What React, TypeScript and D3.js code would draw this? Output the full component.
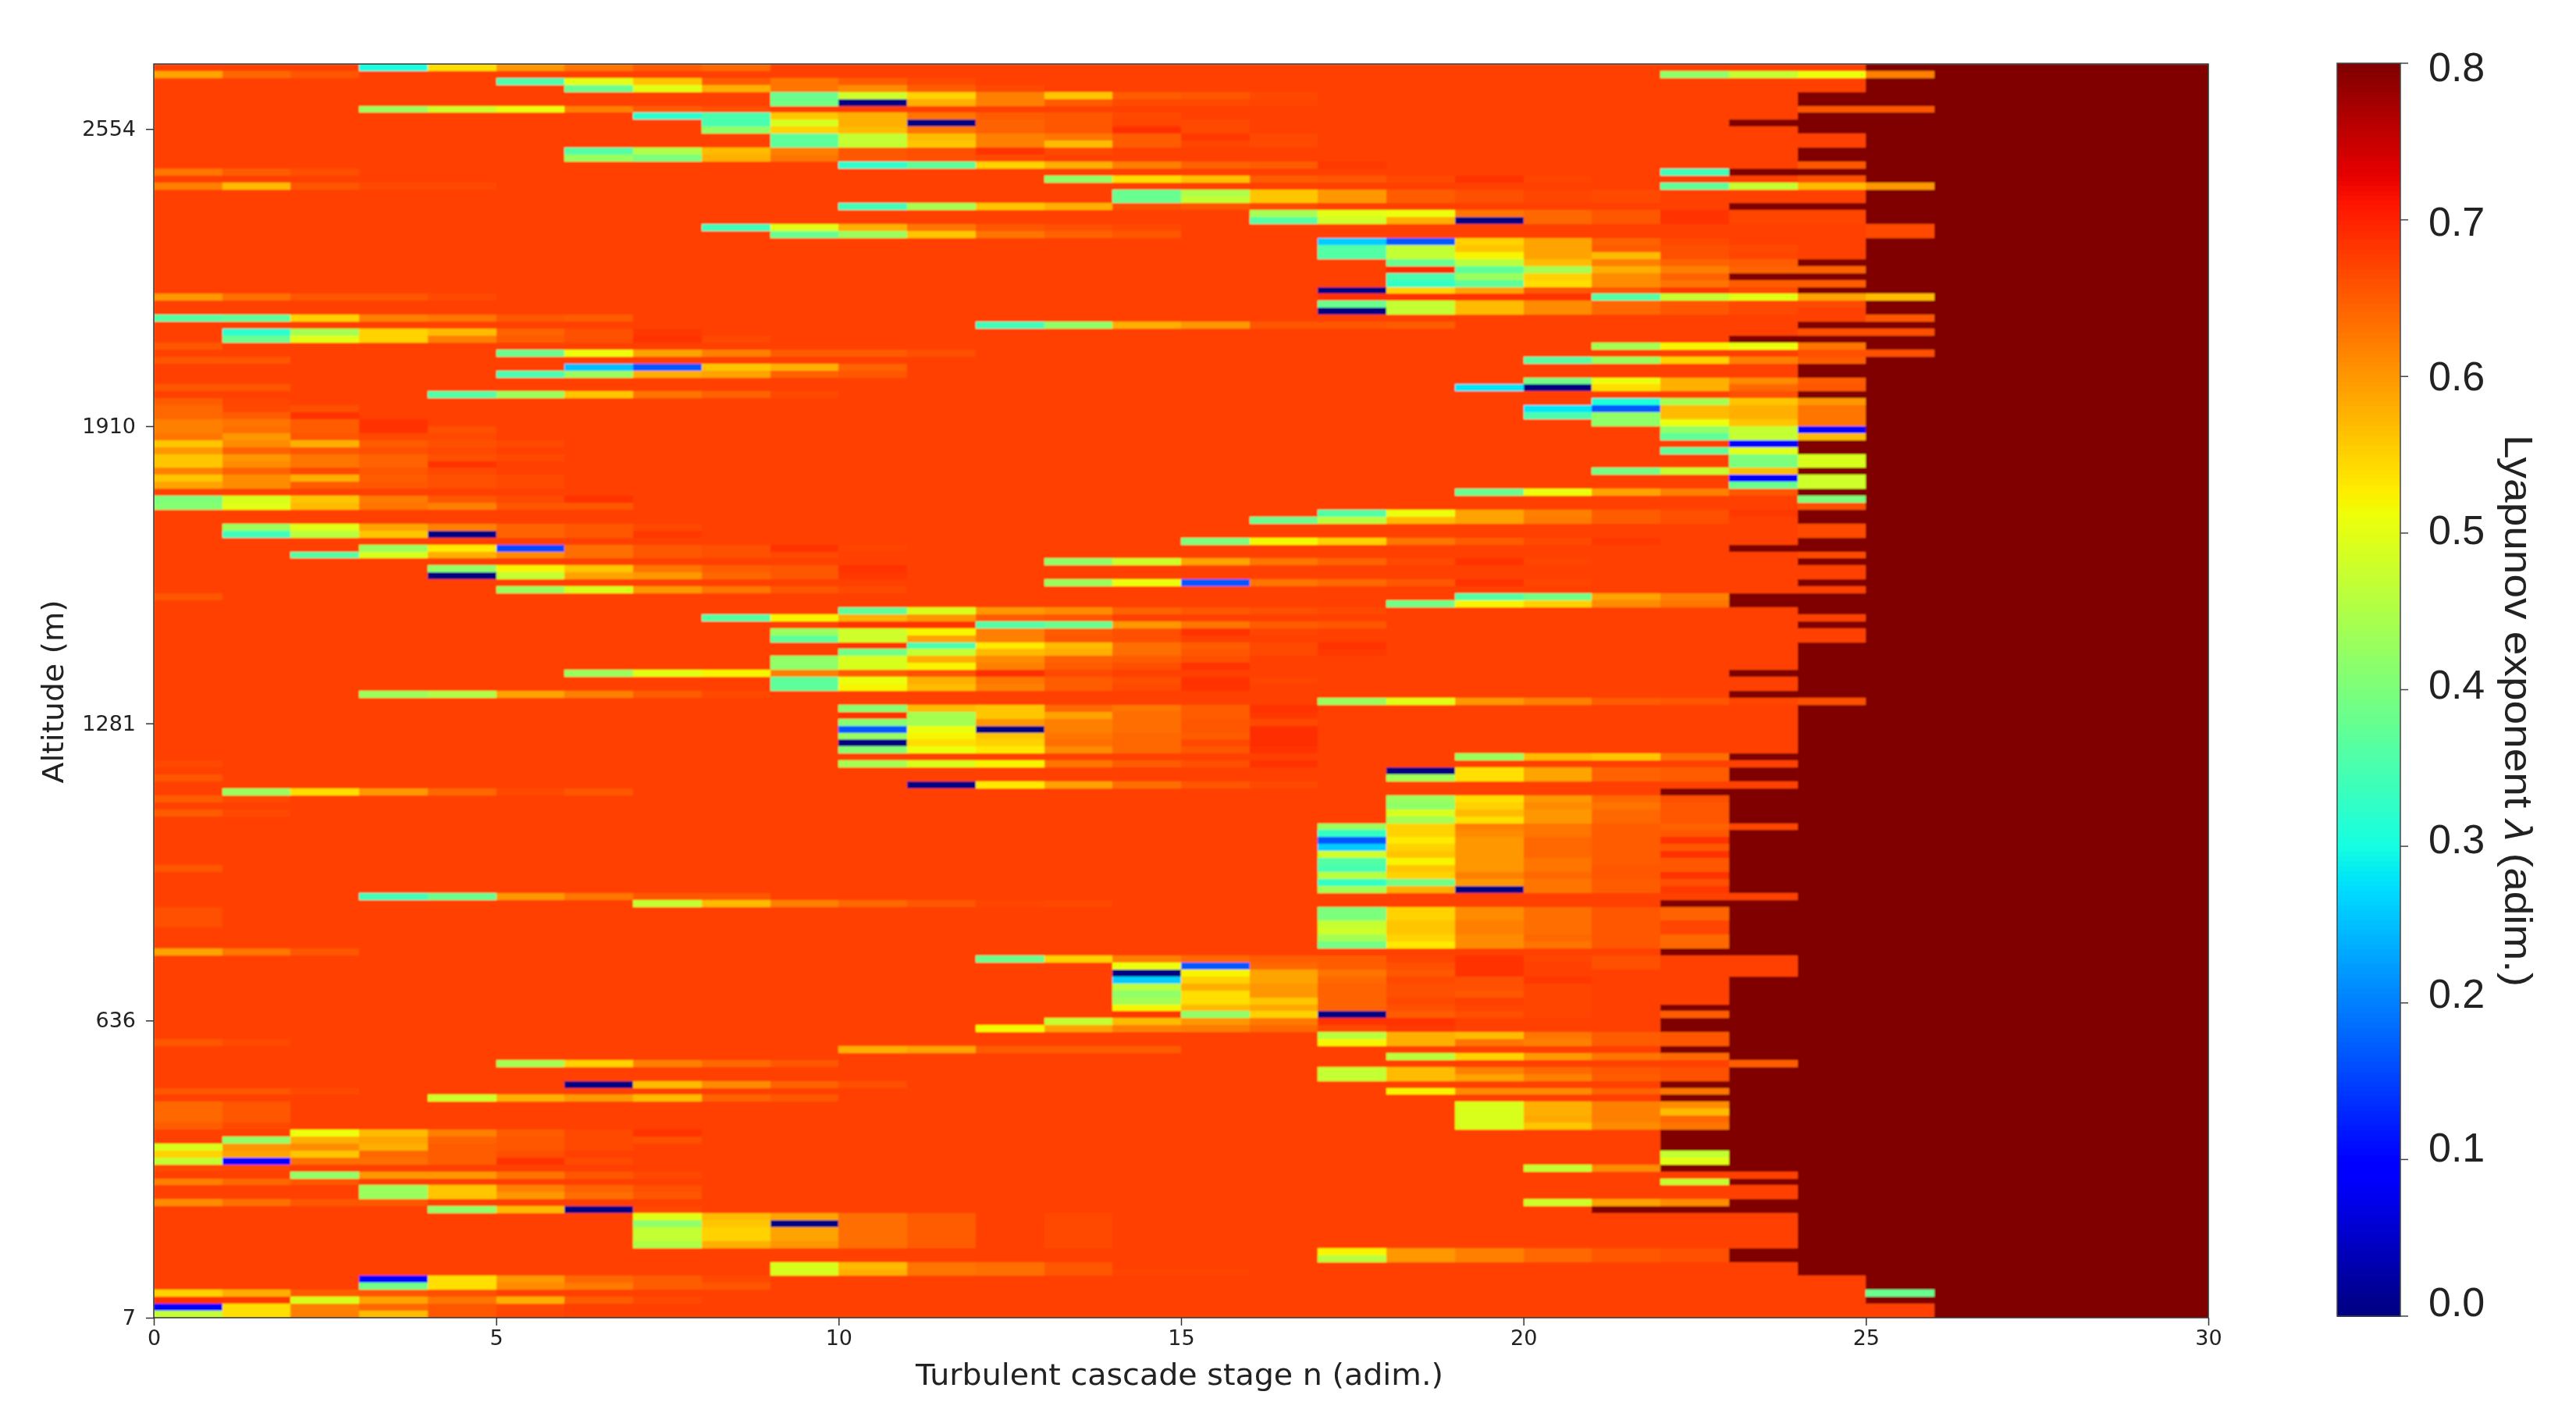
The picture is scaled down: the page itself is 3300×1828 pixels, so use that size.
import React, { useRef, useEffect } from 'react';
import * as d3 from 'd3';

// x axis: turbulent cascade stages, y axis: altitude rows (row 0 is the top of the image)
const stageCount = 30;
const rowCount = 180;
const stageTicks = [0, 5, 10, 15, 20, 25, 30];
const altitudeTickLabels = ['7', '636', '1281', '1910', '2554'];
const altitudeTickRows = [180, 137.33, 94.67, 52, 9.33];
const lambdaTicks = [0, 0.1, 0.2, 0.3, 0.4, 0.5, 0.6, 0.7, 0.8];

const backgroundLambda = 0.675;
const saturatedLambda = 0.8;

// first stage of each row at which the exponent saturates (dark red)
const cutoffStage = [
  25, 26, 25, 25, 24, 24, 26, 24, 23, 24,
  25, 25, 24, 24, 25, 23, 25, 26, 25, 25,
  23, 25, 25, 26, 26, 25, 25, 25, 24, 25,
  23, 25, 24, 26, 25, 25, 26, 24, 26, 23,
  25, 26, 25, 24, 24, 25, 25, 24, 25, 25,
  25, 25, 25, 25, 24, 24, 25, 25, 24, 25,
  25, 24, 25, 25, 24, 24, 25, 25, 24, 23,
  25, 24, 25, 25, 24, 25, 23, 23, 24, 25,
  24, 25, 25, 24, 24, 24, 24, 23, 24, 24,
  23, 25, 24, 24, 24, 24, 24, 24, 24, 23,
  24, 23, 23, 24, 22, 23, 23, 23, 23, 24,
  23, 23, 23, 23, 23, 23, 23, 23, 23, 24,
  22, 23, 23, 23, 23, 23, 23, 22, 24, 24,
  24, 23, 23, 23, 23, 22, 23, 22, 22, 23,
  23, 22, 23, 24, 23, 23, 22, 23, 22, 23,
  23, 23, 23, 22, 22, 22, 23, 23, 22, 24,
  23, 24, 24, 23, 21, 24, 24, 24, 24, 24,
  23, 23, 24, 24, 25, 25, 26, 25, 26, 26,
];

// [row, first stage, exponents read from left to right]
type Streak = [number, number, number[]];

const upperStreaks: Streak[] = [
  [0, 3, [0.3, 0.54, 0.6, 0.63, 0.65, 0.64]],
  [1, 0, [0.59, 0.64, 0.655]],
  [1, 22, [0.42, 0.47, 0.51, 0.62]],
  [2, 5, [0.35, 0.5, 0.56, 0.65, 0.63, 0.65, 0.665]],
  [3, 6, [0.38, 0.5, 0.58, 0.63, 0.61, 0.65, 0.665]],
  [4, 9, [0.38, 0.48, 0.55, 0.62, 0.56, 0.65, 0.655, 0.665]],
  [5, 9, [0.39, 0, 0.58, 0.62, 0.65, 0.665, 0.665, 0.67]],
  [6, 3, [0.43, 0.48, 0.51, 0.62, 0.65, 0.66]],
  [6, 24, [0.655, 0.655]],
  [7, 7, [0.32, 0.35, 0.56, 0.58, 0.63, 0.65, 0.655, 0.665]],
  [8, 8, [0.35, 0.49, 0.58, 0, 0.645, 0.655, 0.67, 0.665]],
  [9, 8, [0.42, 0.55, 0.57, 0.63, 0.645, 0.655, 0.69, 0.665]],
  [10, 9, [0.37, 0.47, 0.57, 0.62, 0.63, 0.65, 0.68, 0.665]],
  [11, 9, [0.37, 0.47, 0.56, 0.62, 0.57, 0.65, 0.67, 0.665]],
  [12, 6, [0.36, 0.45, 0.57, 0.62, 0.655, 0.66, 0.685, 0.665]],
  [13, 6, [0.43, 0.4, 0.58, 0.63, 0.655, 0.66, 0.665]],
  [14, 10, [0.32, 0.37, 0.55, 0.58, 0.62, 0.645, 0.65, 0.68]],
  [14, 24, [0.655]],
  [15, 0, [0.63, 0.65, 0.66]],
  [15, 22, [0.34]],
  [16, 13, [0.42, 0.54, 0.565, 0.65, 0.655, 0.665, 0.685, 0.67]],
  [16, 24, [0.66]],
  [17, 0, [0.62, 0.57, 0.655, 0.665, 0.665]],
  [17, 22, [0.37, 0.47, 0.57, 0.6]],
  [18, 14, [0.38, 0.45, 0.56, 0.6, 0.65, 0.66, 0.67, 0.665]],
  [19, 14, [0.38, 0.47, 0.56, 0.6, 0.65, 0.66, 0.67, 0.665]],
  [20, 10, [0.34, 0.44, 0.56, 0.58, 0.66, 0.655, 0.665]],
  [21, 16, [0.44, 0.5, 0.51, 0.63, 0.64, 0.655, 0.685, 0.67, 0.67]],
  [22, 16, [0.36, 0.48, 0.58, 0, 0.64, 0.655, 0.685, 0.67, 0.67]],
  [23, 8, [0.34, 0.5, 0.58, 0.63, 0.655, 0.66, 0.665]],
  [23, 25, [0.665]],
  [24, 9, [0.38, 0.43, 0.56, 0.63, 0.645, 0.655]],
  [24, 25, [0.665]],
  [25, 17, [0.26, 0.17, 0.55, 0.59, 0.645, 0.665]],
  [26, 17, [0.36, 0.47, 0.56, 0.59, 0.65, 0.66, 0.665]],
  [27, 17, [0.36, 0.47, 0.52, 0.59, 0.57, 0.66, 0.67]],
  [28, 18, [0.38, 0.46, 0.57, 0.62, 0.645, 0.65]],
  [29, 18, [0.69, 0.37, 0.44, 0.58, 0.62, 0.645, 0.645]],
  [30, 18, [0.35, 0.43, 0.55, 0.61, 0.645]],
  [31, 18, [0.33, 0.37, 0.54, 0.61, 0.63, 0.65, 0.65]],
  [32, 17, [0, 0.55, 0.59, 0.655, 0.655, 0.68, 0.665]],
  [33, 0, [0.6, 0.635, 0.655, 0.655, 0.665]],
  [33, 17, [0.685, 0.685, 0.685, 0.685, 0.36, 0.47, 0.5, 0.59, 0.57]],
  [34, 17, [0.38, 0.47, 0.57, 0.61, 0.64, 0.655, 0.665, 0.665]],
  [35, 17, [0, 0.47, 0.57, 0.61, 0.64, 0.655, 0.665]],
  [36, 0, [0.36, 0.37, 0.55, 0.62, 0.63, 0.655, 0.65]],
  [36, 25, [0.655]],
  [37, 12, [0.34, 0.42, 0.58, 0.6, 0.655, 0.655, 0.65]],
  [38, 1, [0.32, 0.44, 0.55, 0.57, 0.645, 0.66, 0.68]],
  [38, 24, [0.66, 0.66]],
  [39, 1, [0.38, 0.5, 0.55, 0.62, 0.65, 0.66, 0.685, 0.665]],
  [40, 0, [0.655]],
  [40, 21, [0.44, 0.52, 0.51, 0.63]],
  [41, 5, [0.38, 0.51, 0.59, 0.62, 0.65, 0.65, 0.66]],
  [41, 24, [0.66, 0.66]],
  [42, 0, [0.655, 0.655]],
  [42, 20, [0.36, 0.43, 0.55, 0.62, 0.65]],
  [43, 6, [0.25, 0.17, 0.56, 0.58, 0.645]],
  [44, 5, [0.35, 0.43, 0.58, 0.59, 0.645, 0.655]],
  [45, 20, [0.39, 0.51, 0.58, 0.61, 0.65]],
  [46, 0, [0.655, 0.655]],
  [46, 19, [0.28, 0, 0.54, 0.58, 0.64, 0.655]],
  [47, 4, [0.36, 0.43, 0.56, 0.63, 0.645, 0.665]],
  [47, 23, [0.66]],
  [48, 0, [0.65, 0.67]],
  [48, 21, [0.31, 0.44, 0.56, 0.6]],
  [49, 0, [0.64, 0.665, 0.66]],
  [49, 20, [0.28, 0.17, 0.57, 0.58, 0.63]],
  [50, 0, [0.64, 0.65, 0.685]],
  [50, 20, [0.35, 0.42, 0.57, 0.58, 0.63]],
  [51, 0, [0.62, 0.63, 0.65, 0.685]],
  [51, 21, [0.42, 0.51, 0.56, 0.63]],
  [52, 0, [0.62, 0.635, 0.65, 0.685, 0.66]],
  [52, 22, [0.42, 0.47, 0.1]],
  [53, 0, [0.63, 0.6, 0.655, 0.665, 0.665]],
  [53, 22, [0.37, 0.47, 0.57]],
  [54, 0, [0.56, 0.61, 0.58, 0.65, 0.66, 0.665]],
  [54, 23, [0.1]],
  [55, 0, [0.6, 0.645, 0.655, 0.66, 0.665]],
  [55, 22, [0.37, 0.5]],
  [56, 0, [0.56, 0.6, 0.63, 0.645, 0.66, 0.665]],
  [56, 23, [0.4, 0.49]],
  [57, 0, [0.56, 0.61, 0.63, 0.645, 0.685]],
  [57, 23, [0.4, 0.49]],
  [58, 0, [0.62, 0.645, 0.665, 0.655, 0.665]],
  [58, 21, [0.39, 0.47, 0.57]],
  [59, 0, [0.56, 0.61, 0.58, 0.65, 0.66, 0.665]],
  [59, 23, [0.09, 0.48]],
];

const middleStreaks: Streak[] = [
  [60, 0, [0.59, 0.61, 0.65, 0.655, 0.66, 0.665]],
  [60, 23, [0.38, 0.48]],
  [61, 19, [0.38, 0.51, 0.59, 0.62, 0.655]],
  [62, 0, [0.4, 0.49, 0.56, 0.625, 0.655, 0.665, 0.685]],
  [62, 24, [0.4]],
  [63, 0, [0.41, 0.5, 0.57, 0.63, 0.62, 0.655, 0.655]],
  [63, 24, [0.66]],
  [64, 17, [0.36, 0.51, 0.59, 0.62, 0.65, 0.66, 0.68]],
  [65, 16, [0.38, 0.46, 0.57, 0.59, 0.625, 0.65, 0.66, 0.675]],
  [66, 1, [0.43, 0.5, 0.59, 0.62, 0.645, 0.655, 0.665]],
  [66, 24, [0.665]],
  [67, 1, [0.34, 0.46, 0.56, 0, 0.645, 0.655, 0.68]],
  [67, 24, [0.665]],
  [68, 15, [0.4, 0.515, 0.55, 0.63, 0.65, 0.665, 0.68]],
  [69, 3, [0.43, 0.53, 0.16, 0.635, 0.655, 0.66, 0.685, 0.67]],
  [70, 2, [0.36, 0.49, 0.58, 0.61, 0.635, 0.655, 0.66, 0.665]],
  [70, 24, [0.665]],
  [71, 13, [0.42, 0.48, 0.59, 0.63, 0.645, 0.665, 0.685, 0.67]],
  [72, 4, [0.42, 0.52, 0.56, 0.63, 0.65, 0.655, 0.685]],
  [73, 4, [0, 0.47, 0.59, 0.6, 0.64, 0.655, 0.68]],
  [74, 13, [0.43, 0.51, 0.17, 0.63, 0.64, 0.655, 0.685, 0.67]],
  [75, 5, [0.43, 0.49, 0.6, 0.63, 0.655, 0.665]],
  [76, 0, [0.655]],
  [76, 19, [0.36, 0.39, 0.59, 0.62]],
  [77, 18, [0.39, 0.52, 0.55, 0.61, 0.63]],
  [78, 10, [0.37, 0.49, 0.6, 0.61, 0.645, 0.655, 0.66, 0.665]],
  [79, 8, [0.36, 0.52, 0.58, 0.6, 0.65, 0.655]],
  [80, 10, [0.685, 0.685, 0.36, 0.38, 0.6, 0.63, 0.65, 0.655]],
  [81, 9, [0.43, 0.48, 0.52, 0.62, 0.65, 0.66, 0.685, 0.67]],
  [82, 9, [0.37, 0.48, 0.59, 0.62, 0.655, 0.66, 0.675]],
  [83, 10, [0.685, 0.35, 0.53, 0.57, 0.635, 0.65, 0.665, 0.685]],
  [84, 10, [0.39, 0.47, 0.57, 0.58, 0.635, 0.655, 0.665, 0.68]],
  [85, 9, [0.42, 0.49, 0.58, 0.61, 0.645, 0.65, 0.66]],
  [86, 9, [0.42, 0.49, 0.52, 0.62, 0.65, 0.66, 0.685]],
  [87, 6, [0.43, 0.5, 0.52, 0.62, 0.65, 0.66, 0.69, 0.665]],
  [88, 9, [0.37, 0.51, 0.58, 0.63, 0.65, 0.66, 0.685, 0.67]],
  [89, 9, [0.37, 0.52, 0.57, 0.62, 0.65, 0.665, 0.685]],
  [90, 3, [0.43, 0.45, 0.59, 0.62, 0.65, 0.665]],
  [91, 17, [0.43, 0.5, 0.6, 0.62, 0.65, 0.655, 0.67, 0.66]],
  [92, 10, [0.41, 0.57, 0.56, 0.64, 0.63, 0.65, 0.685]],
  [93, 10, [0.685, 0.44, 0.56, 0.59, 0.635, 0.65, 0.68]],
  [94, 10, [0.41, 0.44, 0.6, 0.62, 0.635, 0.655, 0.665]],
  [95, 10, [0.17, 0.51, 0, 0.62, 0.635, 0.655, 0.69]],
  [96, 10, [0.43, 0.52, 0.56, 0.63, 0.64, 0.65, 0.69]],
  [97, 10, [0, 0.54, 0.55, 0.635, 0.64, 0.665, 0.69]],
  [98, 10, [0.41, 0.51, 0.53, 0.61, 0.64, 0.655, 0.685]],
  [99, 19, [0.43, 0.57, 0.56, 0.635]],
  [100, 0, [0.665]],
  [100, 10, [0.44, 0.49, 0.52, 0.63, 0.65, 0.66, 0.685]],
  [101, 18, [0, 0.54, 0.59, 0.645, 0.65]],
  [102, 0, [0.655]],
  [102, 18, [0.44, 0.54, 0.59, 0.645, 0.65]],
  [103, 11, [0, 0.53, 0.59, 0.635, 0.655, 0.665]],
  [104, 1, [0.43, 0.54, 0.6, 0.64, 0.665, 0.655]],
  [105, 0, [0.65, 0.665]],
  [105, 18, [0.43, 0.54, 0.6, 0.64, 0.66]],
  [106, 18, [0.42, 0.55, 0.61, 0.63, 0.655]],
  [107, 0, [0.65, 0.665]],
  [107, 18, [0.49, 0.57, 0.6, 0.64, 0.655]],
  [108, 18, [0.44, 0.54, 0.6, 0.64, 0.655]],
  [109, 17, [0.43, 0.55, 0.62, 0.63, 0.65, 0.645, 0.67]],
  [110, 17, [0.33, 0.55, 0.61, 0.63, 0.65, 0.655]],
  [111, 17, [0.17, 0.53, 0.6, 0.64, 0.65, 0.685]],
  [112, 17, [0.26, 0.55, 0.6, 0.64, 0.65, 0.655]],
  [113, 17, [0.48, 0.56, 0.6, 0.64, 0.65, 0.685]],
  [114, 17, [0.36, 0.52, 0.6, 0.63, 0.65, 0.655]],
  [115, 0, [0.655]],
  [115, 17, [0.35, 0.56, 0.6, 0.63, 0.655, 0.655]],
  [116, 17, [0.46, 0.55, 0.62, 0.64, 0.655, 0.685]],
  [117, 17, [0.33, 0.39, 0.6, 0.63, 0.65, 0.66]],
  [118, 17, [0.44, 0.58, 0, 0.63, 0.65, 0.68]],
  [119, 3, [0.34, 0.38, 0.6, 0.63, 0.655, 0.655]],
  [120, 7, [0.47, 0.57, 0.62, 0.64, 0.655, 0.67, 0.665]],
];

const lowerStreaks: Streak[] = [
  [121, 0, [0.66]],
  [121, 17, [0.4, 0.55, 0.61, 0.635, 0.655, 0.645]],
  [122, 0, [0.66]],
  [122, 17, [0.4, 0.55, 0.61, 0.635, 0.655, 0.645]],
  [123, 0, [0.66]],
  [123, 17, [0.47, 0.56, 0.62, 0.635, 0.655, 0.67]],
  [124, 17, [0.48, 0.56, 0.62, 0.635, 0.655, 0.67]],
  [125, 17, [0.44, 0.55, 0.61, 0.64, 0.655, 0.64]],
  [126, 17, [0.39, 0.53, 0.61, 0.63, 0.655, 0.64]],
  [127, 0, [0.59, 0.63, 0.655]],
  [128, 12, [0.38, 0.55, 0.62, 0.64, 0.65, 0.65, 0.67, 0.685, 0.67, 0.66]],
  [129, 14, [0.51, 0.17, 0.64, 0.65, 0.66, 0.685, 0.675, 0.66]],
  [130, 14, [0, 0.52, 0.59, 0.63, 0.655, 0.685, 0.675]],
  [131, 14, [0.26, 0.55, 0.59, 0.64, 0.665, 0.66, 0.68]],
  [132, 14, [0.46, 0.58, 0.6, 0.645, 0.66, 0.66, 0.67]],
  [133, 14, [0.42, 0.54, 0.6, 0.645, 0.66, 0.655, 0.67]],
  [134, 14, [0.44, 0.54, 0.56, 0.645, 0.665, 0.675, 0.67]],
  [135, 14, [0.52, 0.57, 0.585, 0.645, 0.66, 0.67, 0.67]],
  [136, 14, [0.68, 0.42, 0.55, 0, 0.65, 0.66, 0.67]],
  [136, 22, [0.65]],
  [137, 13, [0.47, 0.57, 0.6, 0.625, 0.685, 0.685]],
  [138, 12, [0.515, 0.59, 0.62, 0.625, 0.64, 0.665, 0.68]],
  [139, 17, [0.46, 0.58, 0.57, 0.63, 0.65, 0.655]],
  [140, 0, [0.655, 0.665]],
  [140, 17, [0.52, 0.58, 0.63, 0.62, 0.65, 0.655]],
  [141, 10, [0.58, 0.59, 0.65, 0.65, 0.65]],
  [142, 18, [0.46, 0.55, 0.6, 0.63, 0.64]],
  [143, 5, [0.44, 0.55, 0.62, 0.64, 0.655]],
  [143, 23, [0.65]],
  [144, 17, [0.47, 0.57, 0.62, 0.64, 0.655, 0.66]],
  [145, 17, [0.47, 0.57, 0.59, 0.62, 0.65, 0.66]],
  [146, 6, [0, 0.57, 0.61, 0.645, 0.66]],
  [147, 0, [0.655, 0.655, 0.665]],
  [147, 18, [0.52, 0.61, 0.61, 0.645, 0.63]],
  [148, 4, [0.48, 0.58, 0.6, 0.57, 0.645, 0.655]],
  [149, 0, [0.64, 0.655]],
  [149, 19, [0.49, 0.58, 0.62, 0.61]],
  [150, 0, [0.64, 0.655]],
  [150, 19, [0.49, 0.58, 0.62, 0.57]],
  [151, 0, [0.64, 0.655]],
  [151, 19, [0.49, 0.585, 0.62, 0.64]],
  [152, 0, [0.65, 0.665]],
  [152, 19, [0.49, 0.56, 0.61, 0.63]],
  [153, 2, [0.51, 0.57, 0.62, 0.65, 0.665, 0.685]],
  [154, 1, [0.42, 0.58, 0.59, 0.645, 0.655, 0.665, 0.66]],
  [155, 0, [0.49, 0.6, 0.61, 0.58, 0.65, 0.655, 0.665]],
  [156, 0, [0.55, 0.59, 0.56, 0.64, 0.65, 0.66]],
  [156, 22, [0.47]],
  [157, 0, [0.47, 0.09, 0.635, 0.635, 0.65, 0.685, 0.665]],
  [157, 22, [0.5]],
  [158, 0, [0.665, 0.67]],
  [158, 20, [0.47, 0.61]],
  [159, 2, [0.42, 0.6, 0.6, 0.63, 0.655, 0.665]],
  [160, 0, [0.62, 0.64, 0.655]],
  [160, 22, [0.47]],
  [161, 3, [0.43, 0.56, 0.62, 0.645, 0.66]],
  [162, 3, [0.43, 0.56, 0.6, 0.635, 0.655]],
  [163, 0, [0.61, 0.635, 0.655, 0.655]],
  [163, 20, [0.48, 0.59, 0.61]],
  [164, 4, [0.42, 0.57, 0, 0.665]],
  [165, 7, [0.5, 0.57, 0.59, 0.635, 0.65, 0.675, 0.665]],
  [166, 7, [0.42, 0.56, 0, 0.635, 0.65, 0.675, 0.665]],
  [167, 7, [0.47, 0.55, 0.59, 0.635, 0.65, 0.675, 0.665]],
  [168, 7, [0.47, 0.55, 0.59, 0.635, 0.65, 0.675, 0.665]],
  [169, 7, [0.45, 0.58, 0.6, 0.635, 0.65, 0.675, 0.665]],
  [170, 17, [0.52, 0.6, 0.62, 0.64, 0.655, 0.66]],
  [171, 17, [0.46, 0.6, 0.62, 0.64, 0.655, 0.66]],
  [172, 9, [0.49, 0.57, 0.63, 0.635, 0.655]],
  [173, 9, [0.49, 0.58, 0.63, 0.635, 0.655, 0.67, 0.67]],
  [174, 3, [0.09, 0.54, 0.6, 0.64, 0.65, 0.665]],
  [175, 3, [0.39, 0.54, 0.61, 0.625, 0.65, 0.655]],
  [176, 0, [0.55, 0.58, 0.65, 0.655, 0.66]],
  [176, 25, [0.38]],
  [177, 0, [0.685, 0.68, 0.49, 0.59, 0.63, 0.58, 0.65, 0.665]],
  [178, 0, [0.1, 0.54, 0.62, 0.64, 0.655, 0.665]],
  [179, 0, [0.47, 0.54, 0.62, 0.57, 0.655, 0.67]],
];

// matplotlib's jet, channel by channel
const jetR = d3.scaleLinear().domain([0, 0.35, 0.66, 0.89, 1]).range([0, 0, 1, 1, 0.5]);
const jetG = d3.scaleLinear().domain([0, 0.125, 0.375, 0.64, 0.91, 1]).range([0, 0, 1, 1, 0, 0]);
const jetB = d3.scaleLinear().domain([0, 0.11, 0.34, 0.65, 1]).range([0.5, 1, 1, 0, 0]);
const jet = (f: number) =>
  d3.rgb(jetR(f) * 255, jetG(f) * 255, jetB(f) * 255).formatRgb();

const sansFont = '"DejaVu Sans", sans-serif';
const barFont = '"Liberation Sans", Arial, sans-serif';
const axisColor = '#333';

const App = () => {
  const svgRef = useRef<SVGSVGElement | null>(null);

  useEffect(() => {
    if (!svgRef.current) return;
    const svg = d3.select(svgRef.current);
    svg.selectAll('*').remove();

    const plot = { left: 197, right: 2829, top: 82, bottom: 1688 };
    const bar = { left: 2994, right: 3075, top: 81, bottom: 1686 };

    const xScale = d3.scaleLinear().domain([0, stageCount]).range([plot.left, plot.right]);
    const yScale = d3.scaleLinear().domain([0, rowCount]).range([plot.top, plot.bottom]);
    const lambdaNorm = d3.scaleLinear().domain([0, saturatedLambda]).range([0, 1]).clamp(true);
    const barScale = d3.scaleLinear().domain([0, saturatedLambda]).range([bar.bottom, bar.top]);
    // the colorbar labels sit on a slightly tighter spacing than its ticks
    const barLabelScale = d3.scaleLinear().domain([0, saturatedLambda]).range([1668, 86]);

    const grid = cutoffStage.map(cut =>
      d3.range(stageCount).map(s => (s >= cut ? saturatedLambda : backgroundLambda))
    );
    [...upperStreaks, ...middleStreaks, ...lowerStreaks].forEach(([row, start, values]) => {
      values.forEach((v, i) => { grid[row][start + i] = v; });
    });
    const cells = grid.flatMap((vals, row) => vals.map((v, stage) => ({ row, stage, v })));

    const defs = svg.append('defs');
    defs.append('filter')
      .attr('id', 'soften')
      .attr('x', '-1%').attr('y', '-1%').attr('width', '102%').attr('height', '102%')
      .append('feGaussianBlur')
      .attr('stdDeviation', '1.1 0.8');
    defs.append('filter')
      .attr('id', 'soften-text')
      .attr('x', '-5%').attr('y', '-5%').attr('width', '110%').attr('height', '110%')
      .append('feGaussianBlur')
      .attr('stdDeviation', 0.6);
    defs.append('clipPath')
      .attr('id', 'plot-clip')
      .append('rect')
      .attr('x', plot.left).attr('y', plot.top)
      .attr('width', plot.right - plot.left).attr('height', plot.bottom - plot.top);

    svg.append('g')
      .attr('clip-path', 'url(#plot-clip)')
      .append('g')
      .attr('filter', 'url(#soften)')
      .attr('shape-rendering', 'crispEdges')
      .selectAll('rect')
      .data(cells)
      .join('rect')
      .attr('x', d => xScale(d.stage))
      .attr('y', d => yScale(d.row))
      .attr('width', d => xScale(d.stage + 1) - xScale(d.stage) + 1)
      .attr('height', d => yScale(d.row + 1) - yScale(d.row) + 1)
      .attr('fill', d => jet(lambdaNorm(d.v)));

    svg.append('rect')
      .attr('x', plot.left).attr('y', plot.top)
      .attr('width', plot.right - plot.left).attr('height', plot.bottom - plot.top)
      .attr('fill', 'none')
      .attr('stroke', axisColor)
      .attr('stroke-width', 1.5);

    const xAxis = svg.append('g')
      .attr('transform', `translate(0,${plot.bottom})`)
      .call(d3.axisBottom(xScale).tickValues(stageTicks).tickSize(10).tickPadding(6).tickFormat(d3.format('d')));
    const yAxis = svg.append('g')
      .attr('transform', `translate(${plot.left},0)`)
      .call(d3.axisLeft(yScale)
        .tickValues(altitudeTickRows)
        .tickSize(10)
        .tickPadding(13)
        .tickFormat((_, i) => altitudeTickLabels[i]));
    [xAxis, yAxis].forEach(axis => {
      axis.select('.domain').remove();
      axis.selectAll('line').attr('stroke', axisColor).attr('stroke-width', 1.5);
      axis.selectAll('text')
        .attr('fill', '#222')
        .attr('filter', 'url(#soften-text)')
        .style('font-family', sansFont)
        .style('font-size', '27px');
    });

    svg.append('text')
      .attr('x', 1511)
      .attr('y', 1774)
      .attr('text-anchor', 'middle')
      .attr('textLength', 676)
      .attr('lengthAdjust', 'spacingAndGlyphs')
      .attr('fill', '#222')
      .attr('filter', 'url(#soften-text)')
      .style('font-family', sansFont)
      .style('font-size', '37px')
      .text('Turbulent cascade stage n (adim.)');

    svg.append('text')
      .attr('transform', 'translate(81,886) rotate(-90)')
      .attr('text-anchor', 'middle')
      .attr('textLength', 235)
      .attr('lengthAdjust', 'spacingAndGlyphs')
      .attr('fill', '#222')
      .attr('filter', 'url(#soften-text)')
      .style('font-family', sansFont)
      .style('font-size', '37px')
      .text('Altitude (m)');

    // colorbar, one rect per colormap level
    const levels = d3.range(256);
    svg.append('g')
      .attr('shape-rendering', 'crispEdges')
      .selectAll('rect')
      .data(levels)
      .join('rect')
      .attr('x', bar.left)
      .attr('width', bar.right - bar.left)
      .attr('y', d => barScale(((d + 1) / 256) * saturatedLambda))
      .attr('height', d => barScale((d / 256) * saturatedLambda) - barScale(((d + 1) / 256) * saturatedLambda) + 0.5)
      .attr('fill', d => jet((d + 0.5) / 256));
    svg.append('rect')
      .attr('x', bar.left).attr('y', bar.top)
      .attr('width', bar.right - bar.left).attr('height', bar.bottom - bar.top)
      .attr('fill', 'none')
      .attr('stroke', '#444')
      .attr('stroke-width', 1.5);

    svg.append('g')
      .selectAll('line')
      .data(lambdaTicks)
      .join('line')
      .attr('x1', bar.right)
      .attr('x2', bar.right + 10)
      .attr('y1', d => barScale(d))
      .attr('y2', d => barScale(d))
      .attr('stroke', '#444')
      .attr('stroke-width', 1.5);

    svg.append('g')
      .selectAll('text')
      .data(lambdaTicks)
      .join('text')
      .attr('x', 3111)
      .attr('y', d => barLabelScale(d))
      .attr('dy', '0.35em')
      .attr('fill', '#222')
      .attr('filter', 'url(#soften-text)')
      .style('font-family', barFont)
      .style('font-size', '52px')
      .text(d => d3.format('.1f')(d));

    const barTitle = svg.append('text')
      .attr('transform', 'translate(3209,557) rotate(90)')
      .attr('textLength', 707)
      .attr('lengthAdjust', 'spacingAndGlyphs')
      .attr('fill', '#222')
      .attr('filter', 'url(#soften-text)')
      .style('font-family', barFont)
      .style('font-size', '50px');
    barTitle.append('tspan').text('Lyapunov exponent ');
    barTitle.append('tspan').style('font-style', 'italic').text('λ');
    barTitle.append('tspan').text(' (adim.)');
  }, []);

  return (
    <svg
      ref={svgRef}
      width={3300}
      height={1828}
      style={{ position: 'absolute', left: 0, top: 0, background: '#fff' }}
    />
  );
};

export default App;
